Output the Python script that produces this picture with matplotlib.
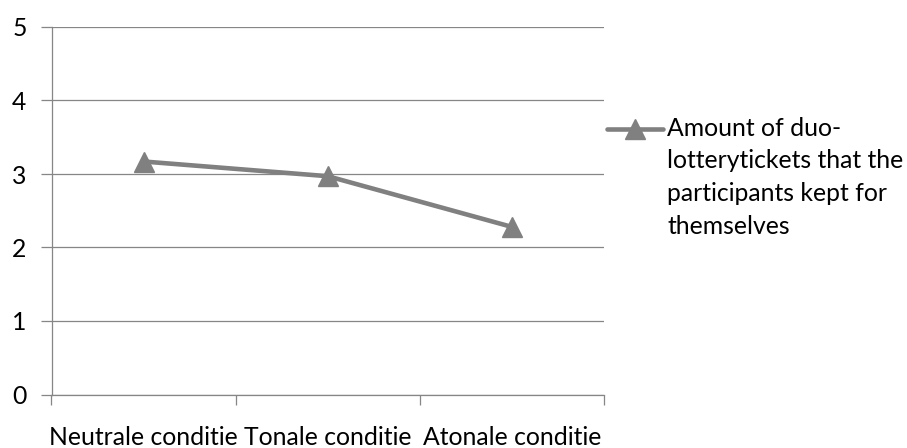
import matplotlib
matplotlib.use("Agg")
import matplotlib.pyplot as plt
from matplotlib.lines import Line2D

categories = ["Neutrale conditie", "Tonale conditie", "Atonale conditie"]
values = [3.17, 2.97, 2.28]
series_label = "Amount of duo-\nlotterytickets that the\nparticipants kept for\nthemselves"
yticks = [0, 1, 2, 3, 4, 5]

plt.rcParams['font.family'] = ['Lato', 'DejaVu Sans']
FS = 17.8
GRID = "#868686"
LINE = "#808080"

W, H = 907, 448
fig = plt.figure(figsize=(W / 100, H / 100), dpi=100)
ax = fig.add_axes([51.5 / W, (H - 394.5) / H, (604 - 51.5) / W, (394.5 - 27) / H])

x = list(range(len(categories)))
ax.plot(x, values, color=LINE, lw=3.3, marker='^', ms=14.5,
        markerfacecolor=LINE, markeredgecolor=LINE, solid_capstyle='round', zorder=3)

ax.set_xlim(-0.5, len(categories) - 0.5)
ax.set_ylim(0, 5)
ax.set_yticks(yticks)
ax.set_yticklabels([str(t) for t in yticks], fontsize=FS, color="black")
ax.set_xticks([i - 0.5 for i in range(len(categories) + 1)])
ax.set_xticklabels([])
ax.set_xticks(x, minor=True)
ax.set_xticklabels(categories, minor=True, fontsize=FS, color="black")
ax.tick_params(axis='x', which='minor', length=0, pad=23)
ax.tick_params(axis='x', which='major', length=7, width=0.9, color=GRID, direction='out')
ax.tick_params(axis='y', length=8, width=0.9, color=GRID, direction='out', pad=10)

ax.yaxis.grid(True, color=GRID, lw=0.9)
ax.set_axisbelow(True)
for s in ['top', 'right']:
    ax.spines[s].set_visible(False)
for s in ['left', 'bottom']:
    ax.spines[s].set_color(GRID)
    ax.spines[s].set_linewidth(0.9)

# legend (handle aligned with first text line, as in the reference)
ly = 1 - 129.5 / H
fig.add_artist(Line2D([607 / W, 663 / W], [ly, ly], transform=fig.transFigure,
                      color=LINE, lw=3.3, solid_capstyle='round'))
fig.add_artist(Line2D([635 / W], [ly], transform=fig.transFigure, color=LINE,
                      marker='^', ms=14.5, markerfacecolor=LINE, markeredgecolor=LINE, lw=0))
fig.text(667 / W, 1 - 117 / H, series_label, fontsize=FS, va='top', ha='left',
         linespacing=1.5, color="black")

fig.savefig("out.png", dpi=100, facecolor="white")
